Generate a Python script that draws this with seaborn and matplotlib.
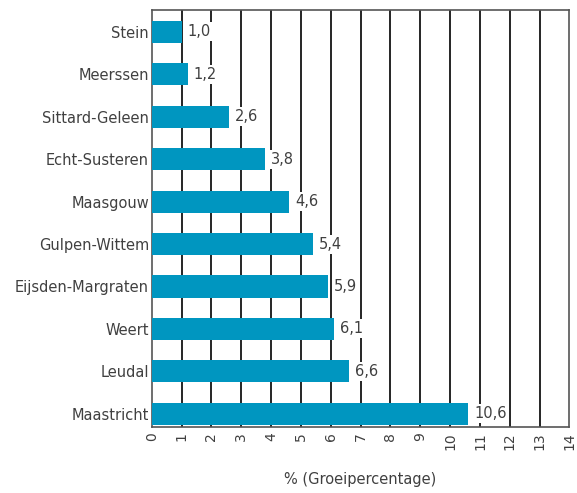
import matplotlib
matplotlib.use("Agg")
import matplotlib.pyplot as plt
import seaborn as sns
import pandas as pd

# Data
gemeenten = ['Stein', 'Meerssen', 'Sittard-Geleen', 'Echt-Susteren', 'Maasgouw',
             'Gulpen-Wittem', 'Eijsden-Margraten', 'Weert', 'Leudal', 'Maastricht']
groei = [1.0, 1.2, 2.6, 3.8, 4.6, 5.4, 5.9, 6.1, 6.6, 10.6]
xticks = list(range(0, 15))

df = pd.DataFrame({'gemeente': gemeenten, 'groei': groei})

sns.set_style("white")
plt.rcParams['font.family'] = ['DejaVu Sans']
text_col = '#404040'
fs = 10.5

fig = plt.figure(figsize=(5.77, 4.93), dpi=100)
ax = fig.add_axes([0.263, 0.134, 0.724, 0.846])

sns.barplot(data=df, x='groei', y='gemeente', orient='h', color='#0096c0',
            saturation=1, width=0.52, linewidth=0, ax=ax, zorder=3)

# vertical gridlines
for t in xticks[1:-1]:
    ax.axvline(t, color='black', lw=1.2, zorder=1)

# value labels with white background
for i, v in enumerate(groei):
    ax.text(v + 0.2, i, f"{v:.1f}".replace('.', ','), va='center', ha='left',
            fontsize=fs, color=text_col, zorder=4,
            bbox=dict(facecolor='white', edgecolor='none', pad=1.5))

ax.set_xlim(0, 14)
ax.set_ylim(9.31, -0.52)
ax.set_xticks(xticks)
ax.set_xticklabels([str(t) for t in xticks], rotation=90, fontsize=10, color=text_col)
ax.set_yticks(range(len(gemeenten)))
ax.set_yticklabels(gemeenten, fontsize=fs, color=text_col)
ax.tick_params(axis='x', length=0, pad=4)
ax.tick_params(axis='y', length=0, pad=2)
ax.set_xlabel('% (Groeipercentage)', fontsize=fs, color=text_col, labelpad=16)
ax.set_ylabel('')

for s in ax.spines.values():
    s.set_color('#555555')
    s.set_linewidth(1.2)
    s.set_visible(True)

fig.savefig('out.png', dpi=100)
